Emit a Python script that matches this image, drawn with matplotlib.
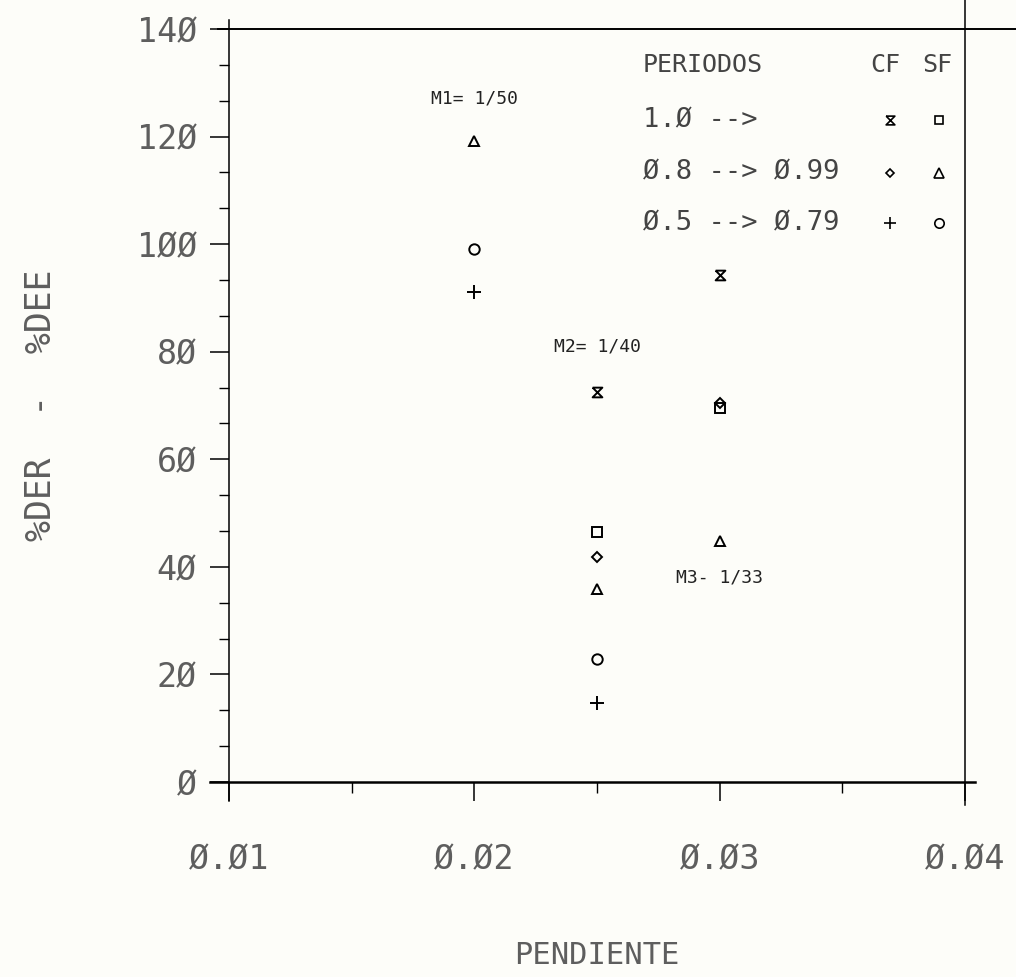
import numpy as np
import matplotlib
matplotlib.use("Agg")
import matplotlib.pyplot as plt
from matplotlib.path import Path
from matplotlib.ticker import MultipleLocator, FixedLocator

# ---- data ----
slopes = [0.02, 0.025, 0.03]
cf_10 = [np.nan, 72.6, 94.2]    # 1.0 -->        CF (hourglass)
sf_10 = [np.nan, 46.4, 69.5]    # 1.0 -->        SF (square)
cf_08 = [np.nan, 41.9, 70.5]    # 0.8 --> 0.99   CF (diamond)
sf_08 = [119.2, 35.9, 44.9]     # 0.8 --> 0.99   SF (triangle)
cf_05 = [91.1, 14.7, np.nan]    # 0.5 --> 0.79   CF (plus)
sf_05 = [99.1, 22.9, np.nan]    # 0.5 --> 0.79   SF (circle)

slope_labels = ["M1= 1/50", "M2= 1/40", "M3- 1/33"]
slope_label_y = [127.0, 81.0, 38.0]

x_ticks = [0.01, 0.02, 0.03, 0.04]
x_ticklabels = ["Ø.Ø1", "Ø.Ø2", "Ø.Ø3", "Ø.Ø4"]
y_ticks = [0, 20, 40, 60, 80, 100, 120, 140]
y_ticklabels = ["Ø", "2Ø", "4Ø", "6Ø", "8Ø", "1ØØ", "12Ø", "14Ø"]

legend_header = ["PERIODOS", "CF", "SF"]
legend_rows = ["1.Ø -->", "Ø.8 --> Ø.99", "Ø.5 --> Ø.79"]

FONT = "DejaVu Sans Mono"
TXT = "#444444"
TICK_TXT = "#5e5e5e"
BG = "#fdfdf9"

hourglass = Path([(-1, 1), (1, 1), (-1, -1), (1, -1), (-1, 1)],
                 [Path.MOVETO, Path.LINETO, Path.LINETO, Path.LINETO, Path.LINETO])

styles = {
    "cf10": dict(marker=hourglass, ms=7),
    "sf10": dict(marker="s", ms=7),
    "cf08": dict(marker="D", ms=5),
    "sf08": dict(marker="^", ms=7.5),
    "cf05": dict(marker="+", ms=9.5),
    "sf05": dict(marker="o", ms=7.5),
}

fig = plt.figure(figsize=(10.16, 9.77), dpi=100, facecolor=BG)
ax = fig.add_axes([229 / 1016, 1 - 782 / 977, (965 - 229) / 1016, (782 - 29) / 977])
ax.set_facecolor(BG)

series = [("cf10", cf_10), ("sf10", sf_10), ("cf08", cf_08),
          ("sf08", sf_08), ("cf05", cf_05), ("sf05", sf_05)]
for key, vals in series:
    st = styles[key]
    ax.plot(slopes, vals, linestyle="none", marker=st["marker"], ms=st["ms"],
            mfc="none", mec="black", mew=1.4, color="black")

ax.set_xlim(0.01, 0.04)
ax.set_ylim(0, 140)

ax.xaxis.set_major_locator(FixedLocator(x_ticks))
ax.xaxis.set_minor_locator(FixedLocator([0.015, 0.025, 0.035]))
ax.yaxis.set_major_locator(FixedLocator(y_ticks))
ax.yaxis.set_minor_locator(MultipleLocator(20 / 3))
ax.set_xticklabels(x_ticklabels, fontsize=24, family=FONT, color=TICK_TXT)
ax.set_yticklabels(y_ticklabels, fontsize=24, family=FONT, color=TICK_TXT)

ax.tick_params(axis="y", which="major", direction="out", length=14, width=1.1, pad=9)
ax.tick_params(axis="y", which="minor", direction="out", length=7, width=1.0)
ax.tick_params(axis="x", which="major", direction="out", length=14, width=1.1, pad=30)
ax.tick_params(axis="x", which="minor", direction="out", length=8, width=1.0)

for s in ax.spines.values():
    s.set_visible(False)

# plotter-style frame lines that overshoot the plot area
kw = dict(transform=ax.transAxes, color="black", clip_on=False)
ax.plot([-0.015, 1.07], [1, 1], lw=1.4, **kw)
ax.plot([-0.026, 1.014], [0, 0], lw=1.8, **kw)
ax.plot([0, 0], [-0.025, 1.012], lw=1.1, **kw)
ax.plot([1, 1], [-0.03, 1.04], lw=1.1, **kw)

ax.set_ylabel("%DER  -  %DEE", fontsize=25, family=FONT, color=TICK_TXT)
ax.yaxis.set_label_coords(-0.255, 0.5)
ax.yaxis.label.set_va("center")
ax.set_xlabel("PENDIENTE", fontsize=22, family=FONT, color=TICK_TXT)
ax.xaxis.set_label_coords(0.5, -0.23)
ax.xaxis.label.set_va("center")

for xs, lab, ly in zip(slopes, slope_labels, slope_label_y):
    ax.text(xs, ly, lab, fontsize=13, family=FONT, color="#222222",
            ha="center", va="center")

# legend block (axes coordinates)
lx_text, lx_cf, lx_sf = 0.5625, 0.898, 0.965
ly_rows = [0.952, 0.879, 0.809, 0.742]
ax.text(lx_text, ly_rows[0], legend_header[0], transform=ax.transAxes,
        fontsize=18, family=FONT, color=TXT, va="center", ha="left")
ax.text(lx_cf - 0.006, ly_rows[0], legend_header[1], transform=ax.transAxes,
        fontsize=18, family=FONT, color=TXT, va="center", ha="center")
ax.text(lx_sf - 0.003, ly_rows[0], legend_header[2], transform=ax.transAxes,
        fontsize=18, family=FONT, color=TXT, va="center", ha="center")
pairs = [("cf10", "sf10"), ("cf08", "sf08"), ("cf05", "sf05")]
for row, (cfk, sfk), ly in zip(legend_rows, pairs, ly_rows[1:]):
    ax.text(lx_text, ly, row, transform=ax.transAxes, fontsize=19.5,
            family=FONT, color=TXT, va="center", ha="left")
    for key, lx in ((cfk, lx_cf), (sfk, lx_sf)):
        st = styles[key]
        ax.plot([lx], [ly], transform=ax.transAxes, linestyle="none",
                marker=st["marker"], ms=st["ms"] * 0.9, mfc="none", mec="black",
                mew=1.2, clip_on=False)

fig.savefig("out.png", dpi=100, facecolor=BG)
